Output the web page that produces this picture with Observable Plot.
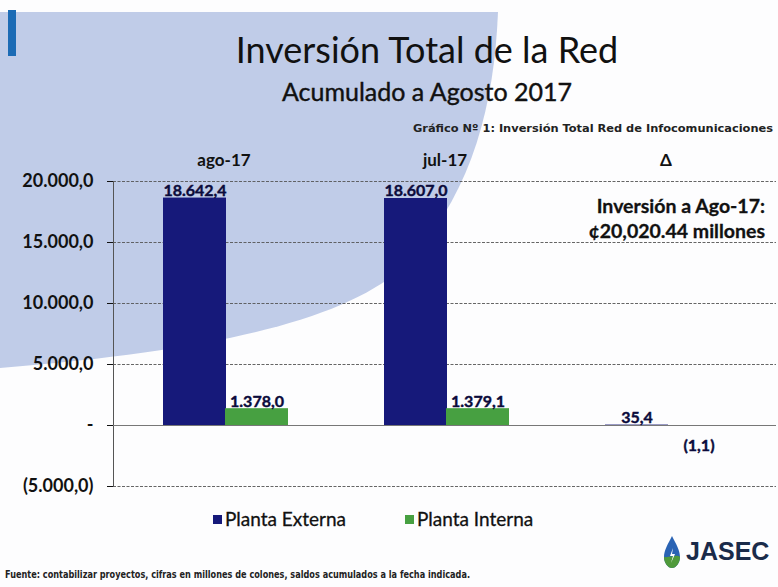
<!DOCTYPE html>
<html>
<head>
<meta charset="utf-8">
<script src="https://cdn.jsdelivr.net/npm/d3@7"></script>
<script src="https://cdn.jsdelivr.net/npm/@observablehq/plot@0.6"></script>
<style>
  body { margin: 0; background: #fff; }
  #wrap { position: relative; width: 778px; height: 587px; overflow: hidden; background: #fdfdfe; }
  .abs { position: absolute; white-space: nowrap; line-height: 1; }
  #chart { position: absolute; left: 0; top: 140px; }
</style>
</head>
<body>
<div id="wrap">
  <svg class="abs" width="778" height="587" style="left:0;top:0">
    <path d="M0,12 L498,12 C494,110 470,200 400,270 C340,320 220,350 0,368 Z" fill="#c0cce8"/>
    <rect x="8" y="10" width="8" height="46" fill="#1c6bb5"/>
  </svg>
  <div class="abs" id="title" style="left:427px;top:31px;transform:translateX(-50%);font-family:Lato;font-size:36px;color:#111;">Inversión Total de la Red</div>
  <div class="abs" id="subtitle" style="left:427px;top:79px;transform:translateX(-50%);font-family:Lato;font-size:25px;color:#111;-webkit-text-stroke:0.4px #111;">Acumulado a Agosto 2017</div>
  <svg class="abs" width="778" height="587" style="left:0;top:0;pointer-events:none">
    <text x="773" y="132" text-anchor="end" textLength="360" lengthAdjust="spacingAndGlyphs" font-family="DejaVu Sans" font-weight="bold" font-size="10" fill="#222">Gráfico Nº 1: Inversión Total Red de Infocomunicaciones</text>
    <text x="5" y="578" textLength="465" lengthAdjust="spacingAndGlyphs" font-family="DejaVu Sans" font-weight="bold" font-size="10" fill="#222">Fuente: contabilizar proyectos, cifras en millones de colones,  saldos acumulados  a la fecha indicada.</text>
    <g transform="translate(664,536)">
      <path d="M8,0 C4,8 0,14 0,21 C0,27 4,32 8,32 C12,32 16,27 16,21 C16,14 12,8 8,0 Z" fill="#2a63b4"/>
      <path d="M0,21 C0,27 4,32 8,32 C12,32 16,27 16,21 C12,18 6,22 0,21 Z" fill="#4f9a3b"/>
      <path d="M9,12 L6,20 L9,20 L7,27 L11,18 L8,18 Z" fill="#fff"/>
    </g>
    <text x="686" y="560" font-family="Liberation Sans" font-weight="bold" font-size="25" fill="#1a2b4a">JASEC</text>
  </svg>
  <div id="chart"></div>
  <div class="abs" style="right:13px;top:193px;text-align:right;font-family:Lato;font-weight:bold;font-size:19.5px;line-height:25px;color:#111;-webkit-text-stroke:0.3px #111;">Inversión a Ago-17:<br>¢20,020.44 millones</div>
  <div class="abs" id="legend" style="left:0;top:509px;font-family:Lato;font-size:19px;color:#111;-webkit-text-stroke:0.3px #111;"></div>
</div>
<script>
// ---- data ----
const groups = ["ago-17", "jul-17", "Δ"];
const series = ["Planta Externa", "Planta Interna"];
const externa = [18642.4, 18607.0, 35.4];
const interna = [1378.0, 1379.1, -1.1];
const yTicks = [-5000, 0, 5000, 10000, 15000, 20000];
const colors = ["#16197a", "#47a041"];

// ---- build table ----
const rows = [];
groups.forEach((g, i) => {
  rows.push({group: g, serie: series[0], value: externa[i]});
  rows.push({group: g, serie: series[1], value: interna[i]});
});
const ext = rows.filter(d => d.serie === series[0]);
const int = rows.filter(d => d.serie === series[1]);
const intPos = int.filter(d => d.value >= 0);
const intNeg = int.filter(d => d.value < 0);

const locale = d3.formatLocale({decimal: ",", thousands: ".", grouping: [3], currency: ["", ""]});
const f1 = locale.format(",.1f");
const fmtVal = v => v === 0 ? "-" : v < 0 ? `(${f1(-v)})` : f1(v);

const labelStyle = {fontSize: 16, fontWeight: 700, fill: "#0b0b3b", stroke: "#0b0b3b", strokeWidth: 0.4, textAnchor: "middle"};

const chart = Plot.plot({
  width: 778,
  height: 360,
  marginTop: 41,
  marginBottom: 14,
  marginLeft: 113,
  marginRight: 2,
  style: {fontFamily: "Lato", background: "transparent", color: "#111", overflow: "visible"},
  x: {domain: groups, padding: 0},
  y: {domain: [-5000, 20000]},
  color: {domain: series, range: colors},
  marks: [
    Plot.gridY(yTicks, {stroke: "#555", strokeOpacity: 0.9, strokeDasharray: "3,1.5"}),
    Plot.frame({anchor: "left", stroke: "#555"}),
    Plot.barY(ext, {x: "group", y: "value", fill: "serie", insetLeft: 50, insetRight: 108}),
    Plot.barY(int, {x: "group", y: "value", fill: "serie", insetLeft: 112, insetRight: 46}),
    Plot.ruleY([0], {stroke: "#777"}),
    Plot.axisY({ticks: yTicks, tickFormat: fmtVal, tickSize: 6, tickPadding: 14, fontSize: 18, fontWeight: "bold", label: null}),
    Plot.axisX({anchor: "top", tickSize: 0, tickPadding: 16, fontSize: 17, fontWeight: "bold", label: null}),
    Plot.text(ext, {x: "group", y: "value", text: d => fmtVal(d.value), dx: -29, dy: -2, lineAnchor: "bottom", ...labelStyle}),
    Plot.text(intPos, {x: "group", y: "value", text: d => fmtVal(d.value), dx: 33, dy: -2, lineAnchor: "bottom", ...labelStyle}),
    Plot.text(intNeg, {x: "group", y: "value", text: d => fmtVal(d.value), dx: 33, dy: 14, lineAnchor: "top", ...labelStyle})
  ]
});
document.getElementById("chart").appendChild(chart);

// ---- legend ----
const legend = document.getElementById("legend");
const legendX = [213, 405];
series.forEach((s, i) => {
  const sq = document.createElement("div");
  sq.style.cssText = `position:absolute;left:${legendX[i]}px;top:6px;width:9px;height:9px;background:${colors[i]}`;
  const tx = document.createElement("div");
  tx.style.cssText = `position:absolute;left:${legendX[i] + 12}px;top:0;white-space:nowrap;`;
  tx.textContent = s;
  legend.appendChild(sq);
  legend.appendChild(tx);
});
</script>
</body>
</html>
